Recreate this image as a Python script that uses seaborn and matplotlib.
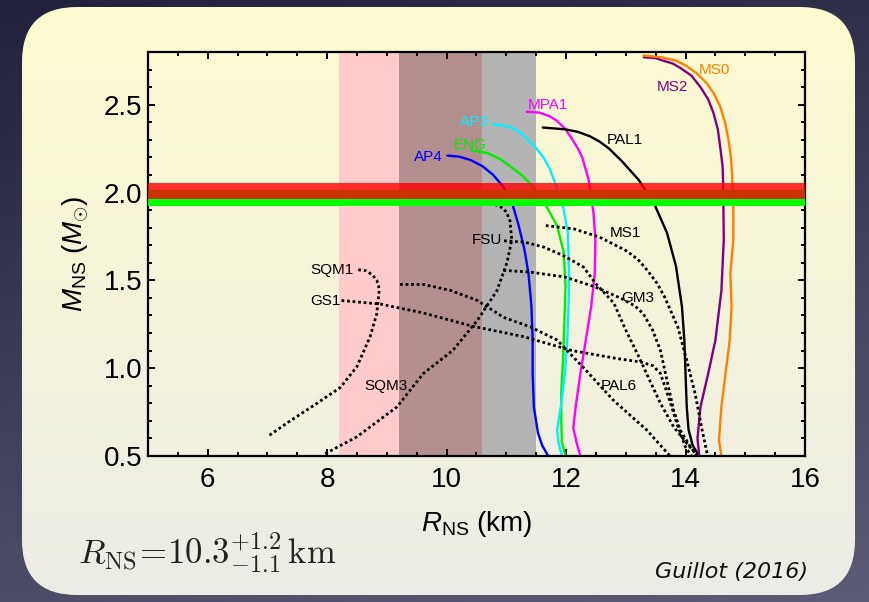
import numpy as np
import pandas as pd
import seaborn as sns
import matplotlib.pyplot as plt
from matplotlib.patches import FancyBboxPatch
from matplotlib.ticker import MultipleLocator, FormatStrFormatter

# ---- mass-radius curves (R in km, M in Msun) ----
ap4_r = [10.01, 10.2, 10.4, 10.6, 10.78, 10.93, 11.07, 11.2, 11.3, 11.37, 11.42, 11.44, 11.44, 11.46, 11.53, 11.6, 11.7]
ap4_m = [2.21, 2.205, 2.185, 2.15, 2.1, 2.04, 1.97, 1.82, 1.68, 1.54, 1.35, 1.16, 0.97, 0.78, 0.63, 0.56, 0.5]
eng_r = [10.42, 10.68, 10.9, 11.1, 11.27, 11.4, 11.53, 11.64, 11.85, 11.96, 11.99, 11.97, 11.95, 11.92, 11.92, 11.93, 11.99]
eng_m = [2.24, 2.225, 2.19, 2.14, 2.095, 2.05, 2.0, 1.94, 1.81, 1.66, 1.47, 1.25, 1.06, 0.87, 0.69, 0.58, 0.5]
ap3_r = [10.76, 11.04, 11.2, 11.33, 11.48, 11.62, 11.72, 11.8, 11.95, 12.03, 12.05, 12.04, 12.02, 11.98, 11.92, 11.85, 11.87, 11.93]
ap3_m = [2.39, 2.375, 2.35, 2.31, 2.26, 2.2, 2.14, 2.07, 1.92, 1.77, 1.54, 1.35, 1.16, 0.97, 0.8, 0.65, 0.58, 0.5]
mpa1_r = [11.34, 11.55, 11.72, 11.84, 11.98, 12.09, 12.19, 12.27, 12.38, 12.46, 12.49, 12.48, 12.42, 12.33, 12.24, 12.16, 12.12, 12.18, 12.24]
mpa1_m = [2.46, 2.455, 2.435, 2.41, 2.365, 2.31, 2.255, 2.2, 2.07, 1.88, 1.73, 1.54, 1.35, 1.16, 0.97, 0.78, 0.66, 0.57, 0.5]
pal1_r = [11.61, 11.98, 12.2, 12.4, 12.56, 12.72, 12.93, 13.22, 13.47, 13.69, 13.84, 13.94, 13.98, 14.0, 14.02, 14.05, 14.12, 14.23]
pal1_m = [2.37, 2.36, 2.345, 2.32, 2.29, 2.25, 2.18, 2.07, 1.94, 1.77, 1.58, 1.35, 1.16, 0.97, 0.78, 0.65, 0.56, 0.5]
ms2_r = [13.3, 13.5, 13.63, 13.78, 13.91, 14.1, 14.25, 14.38, 14.47, 14.54, 14.58, 14.62, 14.63, 14.64, 14.6, 14.5, 14.38, 14.25, 14.2, 14.23]
ms2_m = [2.77, 2.765, 2.75, 2.735, 2.71, 2.665, 2.6, 2.53, 2.45, 2.36, 2.26, 2.15, 2.05, 1.73, 1.44, 1.16, 0.97, 0.78, 0.6, 0.5]
ms0_r = [13.3, 13.6, 13.85, 14.02, 14.2, 14.36, 14.48, 14.58, 14.66, 14.72, 14.76, 14.78, 14.8, 14.8, 14.75, 14.77, 14.74, 14.67, 14.6, 14.56, 14.6]
ms0_m = [2.78, 2.77, 2.75, 2.72, 2.675, 2.62, 2.56, 2.49, 2.4, 2.3, 2.2, 2.1, 1.92, 1.73, 1.54, 1.35, 1.16, 0.97, 0.78, 0.59, 0.5]

# dotted ones
sqm1_r = [8.52, 8.65, 8.76, 8.83, 8.86, 8.87, 8.83, 8.72, 8.5, 8.22, 7.83, 7.38, 7.0]
sqm1_m = [1.56, 1.555, 1.53, 1.5, 1.47, 1.44, 1.31, 1.18, 1.01, 0.89, 0.8, 0.7, 0.61]
gs1_r = [8.24, 8.89, 9.6, 10.42, 11.28, 12.1, 12.85, 13.25, 13.45, 13.58, 13.73, 13.87, 14.0, 14.1]
gs1_m = [1.385, 1.365, 1.315, 1.24, 1.18, 1.1, 1.055, 1.035, 1.015, 0.97, 0.82, 0.67, 0.55, 0.5]
sqm3_r = [10.62, 10.78, 10.9, 11.0, 11.06, 11.09, 11.01, 10.84, 10.51, 10.1, 9.61, 9.17, 8.5, 7.95]
sqm3_m = [1.935, 1.935, 1.92, 1.89, 1.84, 1.73, 1.6, 1.44, 1.27, 1.1, 0.97, 0.78, 0.61, 0.51]
fsu_r = [10.96, 11.3, 11.62, 11.96, 12.29, 12.5, 12.8, 13.0, 13.22, 13.4, 13.58, 13.8, 14.02, 14.2]
fsu_m = [1.725, 1.718, 1.69, 1.64, 1.576, 1.48, 1.37, 1.216, 1.064, 0.93, 0.8, 0.666, 0.573, 0.5]
gm3_r = [10.95, 11.4, 11.98, 12.49, 12.93, 13.15, 13.29, 13.45, 13.58, 13.69, 13.8, 13.91, 14.08, 14.2]
gm3_m = [1.557, 1.547, 1.519, 1.462, 1.396, 1.355, 1.311, 1.216, 1.1, 0.93, 0.761, 0.648, 0.553, 0.5]
ms1_r = [11.66, 12.13, 12.56, 13.0, 13.2, 13.36, 13.52, 13.65, 13.87, 14.02, 14.16, 14.27, 14.37]
ms1_m = [1.812, 1.793, 1.746, 1.67, 1.62, 1.557, 1.485, 1.405, 1.235, 1.045, 0.856, 0.66, 0.5]
pal6_r = [9.22, 9.61, 10.06, 10.51, 10.95, 11.4, 11.85, 12.3, 12.79, 13.35, 13.74]
pal6_m = [1.477, 1.477, 1.443, 1.386, 1.29, 1.235, 1.16, 1.0, 0.818, 0.648, 0.5]

# curve labels
lab_names = ["AP4", "ENG", "AP3", "MPA1", "PAL1", "MS2", "MS0",
             "MS1", "FSU", "SQM1", "GS1", "GM3", "SQM3", "PAL6"]
lab_r = [9.70, 10.39, 10.47, 11.69, 12.99, 13.78, 14.49, 12.99, 10.68, 8.08, 7.97, 13.2, 8.99, 12.89]
lab_m = [2.20, 2.27, 2.40, 2.50, 2.30, 2.60, 2.70, 1.77, 1.73, 1.56, 1.385, 1.40, 0.90, 0.90]

# radius constraint bands (km) and 2 Msun pulsar bands
span_lo = [8.2, 9.2, 10.6]
span_hi = [9.2, 10.6, 11.5]
span_colors = ["#ffcbcb", "#b38f8f", "#b3b3b3"]
psr_mass = [1.97, 2.01]
psr_err = [0.045, 0.045]
psr_colors = ["#00ff00", "#ff0000"]

solid = [("AP4", ap4_r, ap4_m, "#0000ff"), ("ENG", eng_r, eng_m, "#00ee00"),
         ("AP3", ap3_r, ap3_m, "#00f0ff"), ("MPA1", mpa1_r, mpa1_m, "#ff00ff"),
         ("PAL1", pal1_r, pal1_m, "black"), ("MS2", ms2_r, ms2_m, "#800080"),
         ("MS0", ms0_r, ms0_m, "#ff8000")]
dotted = [("SQM1", sqm1_r, sqm1_m), ("GS1", gs1_r, gs1_m), ("SQM3", sqm3_r, sqm3_m),
          ("FSU", fsu_r, fsu_m), ("GM3", gm3_r, gm3_m), ("MS1", ms1_r, ms1_m),
          ("PAL6", pal6_r, pal6_m)]
label_colors = {n: c for n, _, _, c in solid}

sns.set_theme(style="ticks")
plt.rcParams["font.family"] = ["Liberation Sans", "DejaVu Sans"]
plt.rcParams["mathtext.fontset"] = "custom"
plt.rcParams["mathtext.rm"] = "Liberation Sans"
plt.rcParams["mathtext.it"] = "Liberation Sans:italic"
plt.rcParams["lines.solid_joinstyle"] = "round"

W, H = 869, 602
fig = plt.figure(figsize=(W / 100, H / 100), dpi=100)

# -----------------------------
# background: dark slide + rounded yellowish card
# -----------------------------
bg = fig.add_axes([0, 0, 1, 1], zorder=-10)
bg.set_xlim(0, W)
bg.set_ylim(0, H)
bg.axis("off")
yy, xx = np.mgrid[0:1:200j, 0:1:300j]
t = 0.75 * yy + 0.25 * xx
dark0, dark1 = np.array([0.13, 0.13, 0.23]), np.array([0.36, 0.36, 0.46])
bg.imshow(dark0 + t[..., None] * (dark1 - dark0), extent=[0, W, 0, H],
          origin="upper", aspect="auto")
card = FancyBboxPatch((22, 7), 833, 588, boxstyle="round,pad=0,rounding_size=55",
                      fc="none", ec="none")
bg.add_patch(card)
g = np.linspace(0, 1, 200)[:, None, None]
top_c, bot_c = np.array([0.992, 0.984, 0.81]), np.array([0.925, 0.925, 0.905])
im = bg.imshow(np.repeat(top_c + g * (bot_c - top_c), 2, axis=1), extent=[0, W, 0, H],
               origin="upper", aspect="auto")
im.set_clip_path(card)

# -----------------------------
# main panel
# -----------------------------
ax = fig.add_axes([148 / W, 1 - 456 / H, 657 / W, 404 / H])
ax.patch.set_alpha(0)

for lo, hi, c in zip(span_lo, span_hi, span_colors):
    ax.axvspan(lo, hi, color=c, lw=0, zorder=0.5)

for name, r, m, c in solid:
    sns.lineplot(x=r, y=m, sort=False, estimator=None, color=c, lw=1.7, ax=ax, zorder=2)
for name, r, m in dotted:
    sns.lineplot(x=r, y=m, sort=False, estimator=None, color="black", lw=2.0,
                 linestyle=(0, (1.0, 1.0)), ax=ax, zorder=2)

for mid, err, c, a in zip(psr_mass, psr_err, psr_colors, [1.0, 0.8]):
    ax.axhspan(mid - err, mid + err, color=c, alpha=a, lw=0, zorder=3)

for n, r, m in zip(lab_names, lab_r, lab_m):
    ax.text(r, m, n, color=label_colors.get(n, "black"), fontsize=11,
            ha="center", va="center", zorder=4)

ax.set_xlim(5, 16)
ax.set_ylim(0.5, 2.8)
ax.xaxis.set_major_locator(MultipleLocator(2))
ax.xaxis.set_minor_locator(MultipleLocator(0.5))
ax.yaxis.set_major_locator(MultipleLocator(0.5))
ax.yaxis.set_minor_locator(MultipleLocator(0.1))
ax.yaxis.set_major_formatter(FormatStrFormatter("%.1f"))
ax.tick_params(which="both", direction="in", top=True, right=True, width=1.4, color="black")
ax.tick_params(which="major", length=5, labelsize=20, labelcolor="black")
ax.tick_params(which="minor", length=3)
ax.tick_params(axis="x", pad=8)
ax.tick_params(axis="y", pad=4)
for s in ax.spines.values():
    s.set_linewidth(1.6)
    s.set_color("black")

ax.set_xlabel(r"$R_{\rm NS}$ (km)", fontsize=20, color="black")
ax.set_ylabel(r"$M_{\rm NS}$ ($M_{\odot}$)", fontsize=20, color="black")
ax.xaxis.set_label_coords(0.5, -0.13)
ax.yaxis.set_label_coords(-0.086, 0.5)

fig.text(78 / W, 1 - 553 / H, r"$R_{\rm NS}\!=\!10.3^{+1.2}_{-1.1}\,{\rm km}$",
         math_fontfamily="cm", fontsize=25, ha="left", va="center", color="#222222")
fig.text(808 / W, 1 - 572 / H, "Guillot (2016)", fontsize=16, style="italic",
         family="DejaVu Sans", ha="right", va="center", color="#111111")

fig.savefig("out.png", dpi=100)
